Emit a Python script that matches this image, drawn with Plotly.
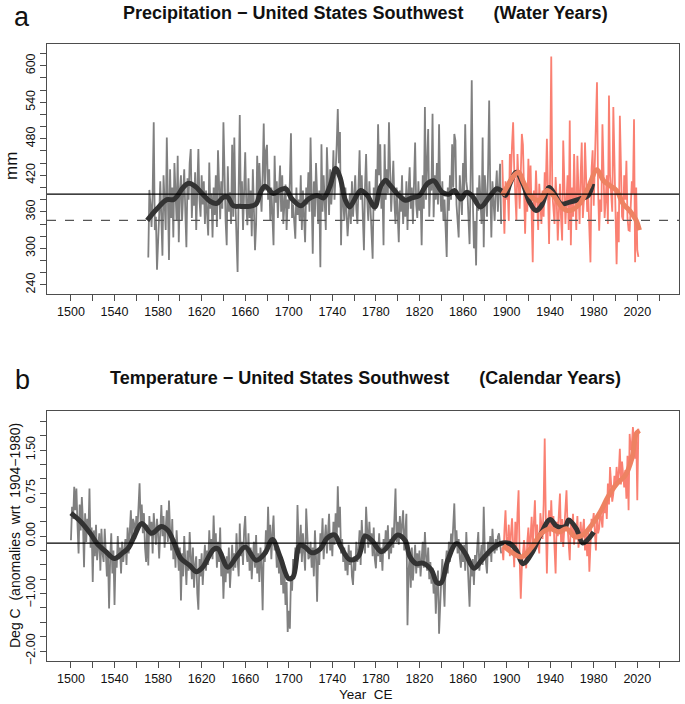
import numpy as np
import plotly.graph_objects as go
from plotly.subplots import make_subplots

# ---------------- panel a : precipitation (mm), water years ----------------
precip_recon_start = 1571
precip_recon = [
    285, 396, 372, 335, 390, 507, 330, 352, 265, 300,
    355, 410, 340, 288, 420, 365, 330, 482, 395, 281,
    430, 350, 400, 318, 440, 372, 345, 452, 310, 395,
    420, 345, 385, 430, 360, 302, 415, 380, 440, 463,
    350, 405, 370, 425, 330, 400, 463, 380, 352, 420,
    372, 410, 340, 395, 360, 321, 441, 365, 390, 318,
    400, 355, 420, 335, 461, 380, 348, 410, 365, 507,
    390, 345, 305, 435, 360, 392, 340, 470, 352, 482,
    375, 330, 261, 400, 519, 365, 410, 330, 390, 458,
    372, 338, 415, 350, 395, 320, 430, 365, 297, 340,
    452, 380, 440, 395, 360, 420, 505, 395, 460, 470,
    380, 430, 345, 400, 360, 305, 452, 375, 410, 350,
    395, 436, 360, 420, 340, 388, 405, 330, 380, 365,
    410, 489, 350, 372, 330, 316, 400, 355, 380, 345,
    420, 330, 395, 350, 310, 400, 372, 425, 360, 482,
    375, 291, 410, 352, 440, 380, 340, 395, 269, 471,
    360, 420, 385, 330, 466, 390, 355, 430, 372, 400,
    461, 380, 420, 470, 529, 440, 491, 305, 410, 370,
    345, 400, 362, 320, 351, 390, 340, 410, 352, 380,
    420, 365, 340, 400, 461, 380, 420, 352, 297, 400,
    455, 380, 345, 410, 365, 330, 283, 400, 362, 430,
    380, 504, 420, 471, 365, 400, 305, 471, 380, 430,
    390, 507, 420, 360, 400, 444, 375, 340, 400, 362,
    310, 395, 360, 420, 340, 385, 352, 410, 330, 395,
    433, 365, 400, 340, 420, 474, 372, 350, 410, 362,
    390, 305, 420, 365, 532, 380, 440, 496, 352, 410,
    395, 521, 351, 420, 380, 440, 372, 504, 395, 360,
    410, 345, 380, 330, 286, 400, 362, 420, 380, 471,
    400, 488, 477, 372, 345, 318, 420, 380, 355, 440,
    390, 504, 410, 395, 340, 307, 420, 576, 380, 300,
    345, 272, 400, 362, 420, 380, 340, 482, 302, 420,
    385, 352, 430, 543, 400, 318, 410, 372, 345, 395,
    428, 360, 400, 439, 340,
]

precip_obs_start = 1896
precip_obs = [
    445, 370, 324, 410, 380, 395, 345, 455, 420, 470,
    507, 430, 390, 346, 455, 400, 365, 420, 488, 470,
    380, 324, 400, 360, 447, 380, 436, 340, 277, 395,
    360, 428, 375, 330, 406, 362, 340, 395, 352, 425,
    400, 480, 350, 307, 430, 615, 390, 370, 340, 417,
    380, 313, 360, 406, 350, 313, 477, 400, 340, 379,
    420, 330, 510, 305, 400, 352, 455, 380, 330, 452,
    400, 340, 420, 474, 350, 380, 474, 420, 360, 384,
    340, 277, 430, 461, 370, 436, 480, 573, 400, 329,
    380, 360, 504, 430, 350, 379, 420, 340, 551, 420,
    395, 360, 532, 440, 380, 274, 360, 310, 518, 400,
    352, 346, 420, 380, 444, 350, 330, 329, 360, 410,
    390, 512, 277, 400, 297, 286,
]

# smoothed curves (read at the knots)
precip_recon_smooth_yr = [1570, 1579, 1588, 1594, 1598, 1603, 1608, 1614, 1621, 1628, 1634,
                          1640, 1644, 1649, 1655, 1664, 1670, 1674, 1678, 1686, 1691,
                          1697, 1703, 1711, 1718, 1726, 1732, 1738, 1743, 1747, 1752,
                          1756, 1760, 1766, 1772, 1779, 1784, 1789, 1792, 1800, 1807,
                          1813, 1820, 1827, 1833, 1841, 1847, 1852, 1858, 1863, 1868,
                          1876, 1884, 1891, 1895, 1899, 1903, 1909, 1915, 1921, 1927,
                          1932, 1939, 1944, 1950, 1958, 1967, 1975, 1979]
precip_recon_smooth = [346, 365, 380, 380, 387, 400, 407, 402, 389, 377, 374,
                       384, 384, 370, 369, 369, 373, 392, 402, 390, 395,
                       398, 381, 370, 381, 387, 383, 403, 431, 417, 379,
                       368, 379, 395, 387, 368, 400, 412, 406, 389, 379,
                       383, 387, 406, 411, 392, 389, 395, 381, 392, 387,
                       368, 384, 398, 395, 387, 406, 425, 406, 376, 362,
                       370, 400, 389, 373, 376, 381, 387, 406]
precip_obs_smooth_yr = [1896, 1901, 1906, 1911, 1915, 1923, 1930, 1937, 1943, 1952, 1958,
                        1967, 1975, 1983, 1989, 1995, 2001, 2007, 2013, 2019, 2022]
precip_obs_smooth = [387, 403, 418, 425, 411, 384, 379, 395, 387, 365, 362,
                     373, 400, 429, 411, 403, 395, 373, 362, 346, 330]

precip_mean_line = 389
precip_low_line = 346

# ---------------- panel b : temperature anomalies, calendar years ----------------
temp_recon_start = 1500
temp_recon = [
    -0.07, 0.51, 0.30, 0.86, 0.45, 0.83, 0.20, -0.30, 0.55, 0.10,
    0.68, 0.25, -0.54, 0.40, -0.10, 0.30, 0.05, 0.83, -0.20, 0.15,
    -0.80, 0.10, -0.35, 0.20, -0.42, -0.15, 0.05, -0.60, 0.13, -0.30,
    -0.45, 0.13, -0.20, -0.70, -0.30, -1.26, -0.40, 0.05, -0.65, -0.25,
    -1.20, -0.35, -0.55, 0.00, -0.40, -0.20, -0.65, -0.10, -0.45, -0.27,
    -0.05, -0.50, 0.15, -0.30, 0.10, 0.45, -0.15, 0.30, 0.22, -0.05,
    0.35, 0.10, 0.50, 0.92, 0.25, 0.55, 0.05, 0.40, -0.20, -0.45,
    0.20, -0.51, 0.35, 0.00, 0.25, -0.30, 0.40, 0.10, -0.15, 0.30,
    0.05, -0.39, 0.25, 0.54, 0.00, 0.35, -0.20, 0.15, 0.45, -0.10,
    0.62, 0.10, -0.25, 0.30, -0.40, -0.05, -0.55, 0.10, -0.35, -0.60,
    -0.20, -1.12, -0.30, -0.70, 0.00, -0.45, -0.85, -0.25, -0.60, 0.07,
    -0.40, -0.75, -0.20, -0.90, -0.50, -0.35, -1.00, -1.28, -0.40, -0.70,
    -0.30, -0.85, -0.45, -0.15, -0.60, -0.25, -0.50, 0.10, -0.35, -0.05,
    -0.40, 0.36, -0.25, 0.05, -0.55, -0.10, -0.45, 0.15, -0.70, -0.30,
    -1.09, -0.50, -0.80, -0.35, -0.65, -0.20, -0.90, -0.45, -0.15, -0.60,
    -0.30, -0.55, 0.05, -0.40, -0.70, 0.22, -0.35, -0.10, -0.50, 0.10,
    0.35, -0.25, -0.45, 0.05, -0.60, -0.20, -0.75, -0.35, -0.10, -0.55,
    0.02, -0.65, -0.30, -0.80, -0.20, -0.50, -1.29, -0.25, -0.45, 0.10,
    -0.30, 0.51, -0.15, 0.20, -0.40, 0.05, 0.36, -0.25, -0.10, -0.55,
    -0.20, -0.65, -0.35, -0.85, -0.45, -1.00, -0.60, -1.20, -0.80, -1.67,
    -1.30, -1.61, -0.70, -0.95, -0.40, -0.75, -0.20, -0.50, 0.54, -0.10,
    -0.30, 0.20, -0.45, 0.05, -0.25, -0.60, 0.48, -0.15, -0.40, -0.36,
    -0.10, -0.55, -0.20, -0.70, 0.10, -0.35, -1.14, -0.25, -0.50, 0.05,
    -0.20, 0.31, -0.40, -0.05, 0.20, -0.30, 0.10, 0.39, -0.25, 0.05,
    -0.35, 0.25, -0.15, 0.40, -0.10, 0.87, 0.15, 0.51, -0.30, -0.05,
    -0.45, -0.20, -0.60, -0.30, -0.68, -0.15, -0.50, -0.25, -0.70, -0.85,
    -0.35, -0.60, -0.10, -0.45, -0.25, 0.10, -0.50, 0.28, -0.15, 0.05,
    -0.30, 0.51, 0.10, -0.20, 0.25, -0.15, 0.05, -0.35, 0.15, -0.40,
    -0.56, -0.10, -0.35, 0.05, -0.45, -0.20, -0.60, -0.05, -0.30, 0.10,
    -0.25, 0.19, -0.40, -0.05, -0.30, 0.15, -0.20, 0.40, 0.83, -0.10,
    0.25, -0.15, 0.35, -0.05, 0.20, 0.45, -0.25, 0.10, 0.39, -1.55,
    -0.60, -0.35, -0.90, -0.20, -0.77, -0.45, -0.15, -0.65, -0.30, -0.55,
    -0.25, -0.70, -0.40, -0.10, -0.55, 0.07, -0.35, -0.60, -0.20, -0.75,
    -0.45, -0.83, -0.55, -1.00, -0.70, -1.35, -0.90, -0.60, -1.70, -1.10,
    -0.75, -0.40, -0.95, -1.23, -0.50, -0.25, -0.65, -0.10, -0.45, 0.045,
    -0.20, 0.25, 0.57, -0.15, 0.10, -0.30, -0.05, -0.36, -0.55, -0.20,
    -0.45, -0.15, -0.60, 0.07, -0.35, -0.80, -1.23, -0.50, -0.70, -0.40,
    -0.85, -0.33, -0.55, -0.20, 0.07, -0.60, -0.35, -0.15, -0.50, 0.51,
    -0.25, -0.40, -0.65, -0.10, -0.35, 0.00, -0.45, 0.13, -0.20, -0.30,
    -0.05, -0.25, -0.01, 0.05, -0.15, -0.30,
]

temp_obs_start = 1896
temp_obs = [
    -0.20, -0.42, 0.10, 0.45, -0.10, -0.19, 0.20, -0.35, 0.05, 0.31,
    -0.15, -0.54, 0.25, -0.30, 0.40, 0.80, -0.40, -1.09, -0.55, -0.25,
    -0.07, -0.30, -0.56, -0.10, 0.15, -0.35, 0.10, 0.335, -0.20, 0.30,
    0.625, -0.10, 0.20, -0.15, -0.30, 0.40, 0.16, -0.05, 0.55, 1.70,
    0.30, -0.65, 0.20, 0.45, 0.00, 0.625, 0.10, 0.35, -0.20, -0.65,
    0.25, 0.00, 0.40, 0.74, -0.10, 0.30, -0.19, 0.20, 0.50, 0.80,
    0.15, -0.10, -0.42, 0.30, 0.05, 0.39, -0.15, 0.20, 0.00, 0.35,
    -0.20, -0.01, 0.25, -0.10, 0.15, 0.30, -0.25, 0.05, -0.35, 0.10,
    -0.62, 0.05, 0.30, 0.22, 0.40, 0.10, -0.25, 0.35, 0.05, 0.13,
    0.45, 0.30, 0.15, 0.57, 0.40, 0.65, 0.30, 0.915, 0.55, 1.205,
    0.90, 0.60, 0.74, 1.05, 0.85, 1.205, 0.95, 1.10, 1.52, 0.90,
    1.30, 1.09, 0.85, 1.15, 0.65, 1.40, 0.45, 1.78, 1.50, 1.60,
    1.90, 1.65, 1.35, 1.81, 0.625, 1.87,
]

temp_recon_smooth_yr = [1500, 1509, 1518, 1524, 1532, 1540, 1547, 1553, 1558, 1565, 1574,
                        1583, 1589, 1595, 1601, 1609, 1615, 1621, 1631, 1635, 1644,
                        1652, 1660, 1670, 1678, 1685, 1692, 1700, 1704, 1710, 1715,
                        1721, 1729, 1735, 1742, 1748, 1756, 1764, 1770, 1776, 1785,
                        1793, 1800, 1807, 1811, 1817, 1823, 1831, 1836, 1840, 1846,
                        1854, 1862, 1870, 1877, 1885, 1894, 1903, 1909, 1915, 1923,
                        1931, 1940, 1946, 1954, 1957, 1964, 1970, 1980]
temp_recon_smooth = [0.40, 0.25, 0.04, -0.13, -0.27, -0.39, -0.30, -0.20, -0.01, 0.22, 0.05,
                     0.17, 0.10, -0.13, -0.39, -0.51, -0.62, -0.54, -0.23, -0.22, -0.54,
                     -0.36, -0.19, -0.42, -0.30, -0.06, -0.36, -0.74, -0.71, -0.16, -0.19,
                     -0.29, -0.22, -0.04, 0.02, -0.19, -0.41, -0.35, 0.00, -0.07, -0.27,
                     -0.13, 0.02, -0.08, -0.35, -0.48, -0.47, -0.59, -0.81, -0.81, -0.42,
                     -0.13, -0.30, -0.56, -0.42, -0.25, -0.13, -0.13, -0.25, -0.48, -0.30,
                     0.02, 0.29, 0.17, 0.17, 0.28, 0.13, -0.12, 0.07]
temp_obs_smooth_yr = [1897, 1906, 1914, 1923, 1932, 1940, 1948, 1955, 1963, 1970, 1978,
                      1986, 1993, 2001, 2009, 2015, 2019, 2022]
temp_obs_smooth = [-0.16, -0.30, -0.36, -0.19, 0.05, 0.13, 0.07, 0.13, -0.01, 0.02, 0.19,
                   0.42, 0.68, 0.91, 1.06, 1.35, 1.78, 1.84]

temp_ref_line = -0.12

# ---------------- styling ----------------
GRAY = "#808080"
SALMON = "#FA8072"
SMOOTH_OBS = "#EE8262"
SMOOTH_REC = "#333333"
AXIS = "#4d4d4d"
FONT = "Liberation Sans, Arial, sans-serif"

yrs_pr = np.arange(precip_recon_start, precip_recon_start + len(precip_recon))
yrs_po = np.arange(precip_obs_start, precip_obs_start + len(precip_obs))
yrs_tr = np.arange(temp_recon_start, temp_recon_start + len(temp_recon))
yrs_to = np.arange(temp_obs_start, temp_obs_start + len(temp_obs))

fig = make_subplots(rows=2, cols=1)

def add_panel(row, yr_rec, rec, yr_obs, obs, sy_rec, s_rec, sy_obs, s_obs):
    fig.add_trace(go.Scatter(x=yr_rec, y=rec, mode="lines",
                             line=dict(color=GRAY, width=1.8)), row=row, col=1)
    fig.add_trace(go.Scatter(x=yr_obs, y=obs, mode="lines",
                             line=dict(color=SALMON, width=1.8)), row=row, col=1)
    fig.add_trace(go.Scatter(x=sy_rec, y=s_rec, mode="lines",
                             line=dict(color=SMOOTH_REC, width=5, shape="spline")), row=row, col=1)
    fig.add_trace(go.Scatter(x=sy_obs, y=s_obs, mode="lines",
                             line=dict(color=SMOOTH_OBS, width=5, shape="spline")), row=row, col=1)

add_panel(1, yrs_pr, precip_recon, yrs_po, precip_obs,
          precip_recon_smooth_yr, precip_recon_smooth, precip_obs_smooth_yr, precip_obs_smooth)
add_panel(2, yrs_tr, temp_recon, yrs_to, temp_obs,
          temp_recon_smooth_yr, temp_recon_smooth, temp_obs_smooth_yr, temp_obs_smooth)

fig.add_hline(y=precip_mean_line, line=dict(color="black", width=1.3), row=1, col=1)
fig.add_hline(y=precip_low_line, line=dict(color="#555555", width=1.3, dash="dash"), row=1, col=1)
fig.add_hline(y=temp_ref_line, line=dict(color="black", width=1.3), row=2, col=1)

# plot area in pixels: x 47..679, y 44..661
L, R, T, B = 47, 6, 44, 43
W, H = 685 - L - R, 704 - T - B

def py(ypx):
    return (704 - B - ypx) / H

def px(xpx):
    return (xpx - L) / W

xticks = list(range(1500, 2041, 20))
xlabels = [str(v) if (v - 1500) % 40 == 0 else "" for v in xticks]

axis_common = dict(showline=True, mirror=True, linecolor=AXIS, linewidth=1,
                   ticks="outside", ticklen=6, tickcolor=AXIS, showgrid=False,
                   zeroline=False, automargin=False,
                   tickfont=dict(family=FONT, size=12.5, color="#111111"))

fig.update_xaxes(range=[1478, 2058.3], tickvals=xticks, ticktext=xlabels, **axis_common)
fig.update_xaxes(domain=[0, 1], row=1, col=1)
fig.update_xaxes(domain=[0, 1], row=2, col=1)

pr_ticks = list(range(240, 621, 20))
pr_labels = [str(v) if (v - 240) % 60 == 0 else "" for v in pr_ticks]
fig.update_yaxes(range=[225, 635.7], tickvals=pr_ticks, ticktext=pr_labels, tickangle=-90,
                 domain=[py(294), 1], row=1, col=1, **axis_common)

t_ticks = [round(-2.25 + 0.25 * i, 2) for i in range(18)]
t_label_map = {-2.0: "\u22122.00", -1.0: "\u22121.00", 0.0: "0.00", 0.75: "0.75", 1.5: "1.50"}
t_labels = [t_label_map.get(v, "") for v in t_ticks]
fig.update_yaxes(range=[-2.174, 2.179], tickvals=t_ticks, ticktext=t_labels, tickangle=-90,
                 domain=[0, py(411)], row=2, col=1, **axis_common)

sp = "\u00a0" * 6
annotations = [
    dict(text="<b>Precipitation \u2212 United States Southwest" + sp + "(Water Years)</b>",
         x=px(365), y=py(13), font=dict(size=18)),
    dict(text="<b>Temperature \u2212 United States Southwest" + sp + "(Calendar Years)</b>",
         x=px(365), y=py(378), font=dict(size=18)),
    dict(text="a", x=px(22), y=py(17), font=dict(size=27)),
    dict(text="b", x=px(22), y=py(380), font=dict(size=27)),
    dict(text="mm", x=px(11), y=py(166), textangle=-90, font=dict(size=17)),
    dict(text="Deg C\u00a0\u00a0(anomalies\u00a0\u00a0wrt\u00a0\u00a01904\u22121980)",
         x=px(15), y=py(536), textangle=-90, font=dict(size=14)),
    dict(text="Year\u00a0\u00a0CE", x=px(366), y=py(694), font=dict(size=13.5)),
]
for a in annotations:
    a.update(xref="paper", yref="paper", showarrow=False, xanchor="center", yanchor="middle")
    a["font"].update(family=FONT, color="#111111")

fig.update_layout(width=685, height=704, margin=dict(l=L, r=R, t=T, b=B),
                  paper_bgcolor="white", plot_bgcolor="white", showlegend=False,
                  annotations=annotations, font=dict(family=FONT))

# the page body has a default 8px margin; remove it so the figure fills the window
fig.write_html("out.html", config={"displayModeBar": False},
               post_script="document.body.style.margin='0';")
